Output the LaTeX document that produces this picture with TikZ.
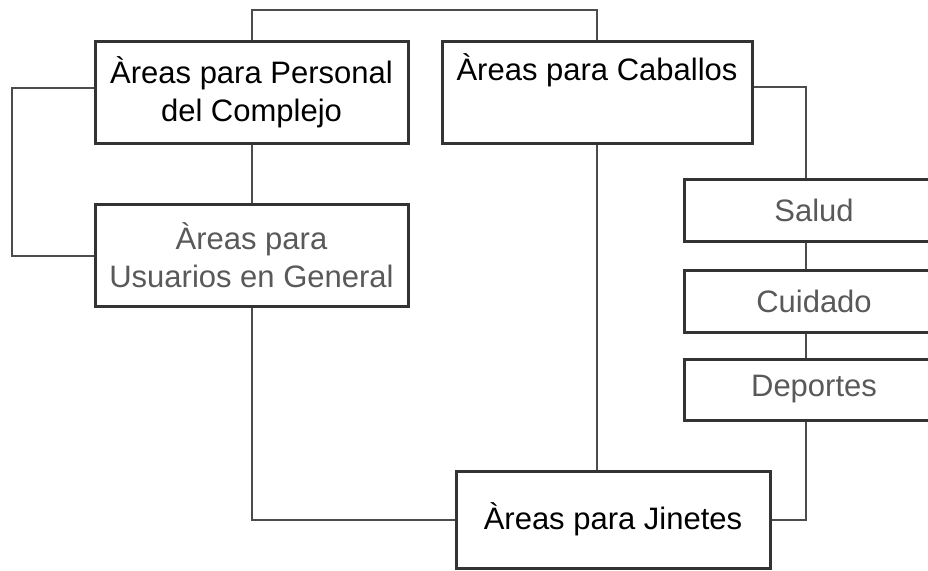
\documentclass[tikz,border=0pt]{standalone}
\usepackage{fontspec}
\setmainfont{Liberation Sans}
\usepackage{xcolor}
\definecolor{frame}{gray}{0.2}
\definecolor{wire}{gray}{0.3}
\definecolor{soft}{gray}{0.35}
\tikzset{
    areabox/.style={draw=frame, line width=3pt, rectangle, align=center, inner sep=0pt, font=\fontsize{31}{38}\selectfont},
    area_main/.style={areabox, minimum width=313pt, minimum height=102pt},
    area_sub/.style={areabox, text=soft, minimum width=260pt, minimum height=62pt},
    link/.style={draw=wire, line width=2pt}
}

\begin{document}
\begin{tikzpicture}[x=1pt, y=-1pt]
    \clip (0,0) rectangle (928,570);
    % main areas
    \node[area_main](personal) at (251.5,92) {Àreas para Personal\\del Complejo};
    \node[area_main, minimum width=310pt](caballos) at (597,92) {Àreas para Caballos\\\strut};
    \node[area_main, text=soft](usuarios) at (251.5,255.5) {Àreas para\\Usuarios en General};
    \node[area_main, minimum width=314pt, minimum height=97pt](jinetes) at (613,519.5) {Àreas para Jinetes};
    % horse areas
    \node[area_sub](salud) at (814,210) {Salud};
    \node[area_sub](cuidado) at (814,301) {Cuidado};
    \node[area_sub, minimum height=61pt](deportes) at (814,389.5) {Deportes};
    \coordinate (lrail) at (12,0);
    \coordinate (rbus) at (806,0);
    % connectors
    \draw[link] (personal.north) -- (personal.north |- 0,10) -| (caballos.north);
    \draw[link] ([yshift=4pt]personal.west) -- ([yshift=4pt]personal.west -| lrail) |- (usuarios.west);
    \draw[link] (personal.south) -- (usuarios.north);
    \draw[link] (usuarios.south) |- (jinetes.west);
    \draw[link] (caballos.south) -- (caballos.south |- jinetes.north);
    \draw[link] ([yshift=5pt]caballos.east) -| (salud.north -| rbus);
    \draw[link] (salud.south -| rbus) -- (cuidado.north -| rbus);
    \draw[link] (cuidado.south -| rbus) -- (deportes.north -| rbus);
    \draw[link] (deportes.south -| rbus) |- (jinetes.east);
\end{tikzpicture}
\end{document}
